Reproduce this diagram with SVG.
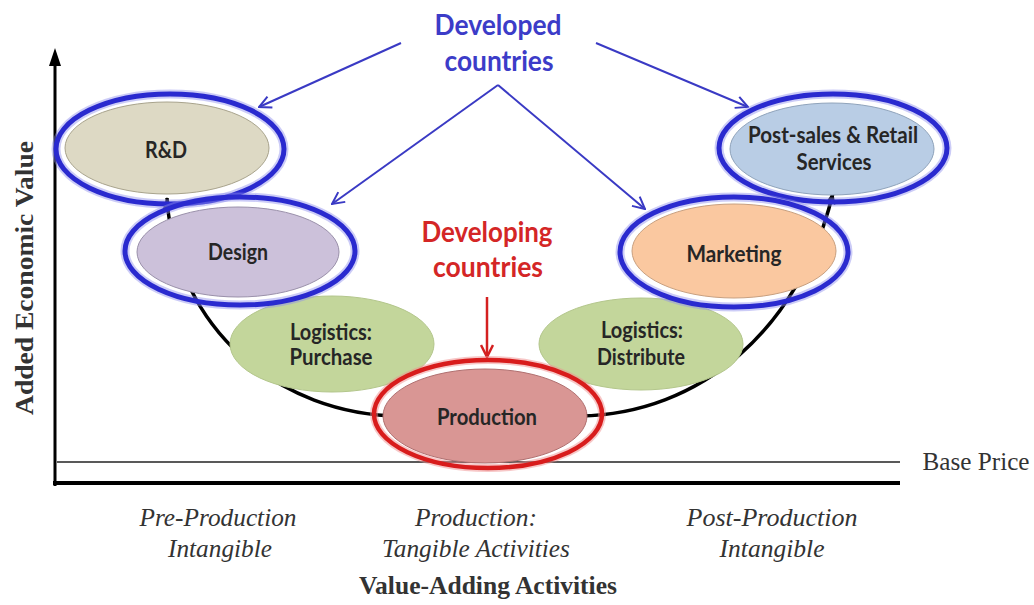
<svg xmlns="http://www.w3.org/2000/svg" width="1034" height="605" viewBox="0 0 1034 605">
<style>
.lbl{font-family:Lato,"Open Sans","Liberation Sans",sans-serif;font-weight:bold;font-size:22px;fill:#262626;text-anchor:middle}
.big{font-family:Lato,"Open Sans","Liberation Sans",sans-serif;font-weight:bold;font-size:28px;text-anchor:middle}
.ser{font-family:"Liberation Serif","Times New Roman",serif;fill:#333;text-anchor:middle}
.it{font-style:italic;font-size:26px}
.ring{fill:none;stroke:#2a2acf;stroke-width:5}
.halo{fill:none;stroke:#8f8fee;stroke-width:9;opacity:.45}
.rring{fill:none;stroke:#d81c1c;stroke-width:4.5}
.rhalo{fill:none;stroke:#f09090;stroke-width:8;opacity:.5}
.inner{stroke-width:1}
.barrow{fill:none;stroke:#3a3ac4;stroke-width:2;marker-end:url(#bh)}
</style>
<defs>
<marker id="bh" markerUnits="userSpaceOnUse" viewBox="0 0 14 14" refX="13" refY="7" markerWidth="14" markerHeight="14" orient="auto">
<path d="M1,1 L13,7 L1,13" fill="none" stroke="#3a3ac4" stroke-width="2"/>
</marker>
<marker id="rh" markerUnits="userSpaceOnUse" viewBox="0 0 14 14" refX="13" refY="7" markerWidth="14" markerHeight="14" orient="auto">
<path d="M1,1 L13,7 L1,13" fill="none" stroke="#d42020" stroke-width="2.5"/>
</marker>
<marker id="kh" markerUnits="userSpaceOnUse" viewBox="0 0 12 12" refX="11" refY="6" markerWidth="12" markerHeight="12" orient="auto-start-reverse">
<path d="M0,1 L12,6 L0,11 Z" fill="#000"/>
</marker>
</defs>
<rect width="1034" height="605" fill="#fff"/>

<g id="axes">
<line x1="55" y1="62" x2="55" y2="486" stroke="#000" stroke-width="3"/>
<polygon points="55,48 49,66 61,66" fill="#000"/>
<line x1="53" y1="483" x2="900" y2="483" stroke="#000" stroke-width="4"/>
<line x1="57" y1="462" x2="900" y2="462" stroke="#222" stroke-width="1.5"/>
<text class="ser" font-size="25" x="976" y="470" text-anchor="middle" textLength="107" lengthAdjust="spacingAndGlyphs">Base Price</text>
<text class="ser" font-size="26" font-weight="bold" transform="translate(33,278) rotate(-90)" x="0" y="0" textLength="274" lengthAdjust="spacingAndGlyphs">Added Economic Value</text>
<text class="ser it" x="218" y="526" textLength="157" lengthAdjust="spacingAndGlyphs">Pre-Production</text>
<text class="ser it" x="220" y="557" textLength="104" lengthAdjust="spacingAndGlyphs">Intangible</text>
<text class="ser it" x="476" y="526" textLength="122" lengthAdjust="spacingAndGlyphs">Production:</text>
<text class="ser it" x="476" y="557" textLength="188" lengthAdjust="spacingAndGlyphs">Tangible Activities</text>
<text class="ser it" x="772" y="526" textLength="171" lengthAdjust="spacingAndGlyphs">Post-Production</text>
<text class="ser it" x="772" y="557" textLength="105" lengthAdjust="spacingAndGlyphs">Intangible</text>
<text class="ser" font-size="26" font-weight="bold" x="488" y="594" textLength="258" lengthAdjust="spacingAndGlyphs">Value-Adding Activities</text>
</g>

<g id="connectors">
<path d="M167,198 C175,330 280,415 400,416 L580,416 C700,414 800,330 833,193" fill="none" stroke="#000" stroke-width="3.5" marker-start="url(#kh)" marker-end="url(#kh)"/>
<line class="barrow" x1="401" y1="43" x2="259" y2="107"/>
<line class="barrow" x1="596" y1="43" x2="748" y2="107"/>
<line class="barrow" x1="498" y1="85" x2="332" y2="204"/>
<line class="barrow" x1="498" y1="85" x2="645" y2="209"/>
<line x1="487" y1="297" x2="487" y2="357" stroke="#d42020" stroke-width="2.5" marker-end="url(#rh)"/>
</g>

<g id="developed-label">
<text class="big" fill="#3c3cc8" x="498" y="35" textLength="127" lengthAdjust="spacingAndGlyphs">Developed</text>
<text class="big" fill="#3c3cc8" x="499" y="71" textLength="109" lengthAdjust="spacingAndGlyphs">countries</text>
</g>
<g id="developing-label">
<text class="big" fill="#d42626" x="487" y="242" textLength="131" lengthAdjust="spacingAndGlyphs">Developing</text>
<text class="big" fill="#d42626" x="488" y="277" textLength="110" lengthAdjust="spacingAndGlyphs">countries</text>
</g>

<g id="logistics-purchase">
<ellipse class="inner" cx="332" cy="344" rx="102" ry="48" fill="#c3d69b" stroke="#b3c68b"/>
<text class="lbl" x="331" y="340" textLength="82" lengthAdjust="spacingAndGlyphs">Logistics:</text>
<text class="lbl" x="331" y="365" textLength="83" lengthAdjust="spacingAndGlyphs">Purchase</text>
</g>
<g id="logistics-distribute">
<ellipse class="inner" cx="641" cy="344" rx="102" ry="46" fill="#c3d69b" stroke="#b3c68b"/>
<text class="lbl" x="642" y="338" textLength="82" lengthAdjust="spacingAndGlyphs">Logistics:</text>
<text class="lbl" x="641" y="365" textLength="88" lengthAdjust="spacingAndGlyphs">Distribute</text>
</g>

<g id="rd">
<ellipse class="halo" cx="170" cy="149" rx="114" ry="55"/>
<ellipse class="ring" cx="170" cy="149" rx="114" ry="55"/>
<ellipse class="inner" cx="167" cy="148" rx="102" ry="46" fill="#ddd9c4" stroke="#a8a38c"/>
<text class="lbl" x="166" y="158" textLength="42" lengthAdjust="spacingAndGlyphs">R&amp;D</text>
</g>
<g id="design">
<ellipse class="halo" cx="240" cy="251" rx="115" ry="54"/>
<ellipse class="ring" cx="240" cy="251" rx="115" ry="54"/>
<ellipse class="inner" cx="238" cy="252" rx="101" ry="45" fill="#ccc1da" stroke="#9a90aa"/>
<text class="lbl" x="238" y="260" textLength="60" lengthAdjust="spacingAndGlyphs">Design</text>
</g>
<g id="post-sales">
<ellipse class="halo" cx="833" cy="148" rx="114" ry="54"/>
<ellipse class="ring" cx="833" cy="148" rx="114" ry="54"/>
<ellipse class="inner" cx="832" cy="149" rx="102" ry="46" fill="#b9cde5" stroke="#8fa3bb"/>
<text class="lbl" x="833" y="143" textLength="170" lengthAdjust="spacingAndGlyphs">Post-sales &amp; Retail</text>
<text class="lbl" x="834" y="170" textLength="75" lengthAdjust="spacingAndGlyphs">Services</text>
</g>
<g id="marketing">
<ellipse class="halo" cx="734" cy="252" rx="114" ry="55"/>
<ellipse class="ring" cx="734" cy="252" rx="114" ry="55"/>
<ellipse class="inner" cx="734" cy="251" rx="102" ry="47" fill="#fac8a0" stroke="#c8a080"/>
<text class="lbl" x="734" y="262" textLength="95" lengthAdjust="spacingAndGlyphs">Marketing</text>
</g>
<g id="production">
<ellipse class="rhalo" cx="488" cy="414" rx="114" ry="54"/>
<ellipse class="rring" cx="488" cy="414" rx="114" ry="54"/>
<ellipse class="inner" cx="485" cy="416" rx="102" ry="47" fill="#d99694" stroke="#b07070"/>
<text class="lbl" x="487" y="425" textLength="100" lengthAdjust="spacingAndGlyphs">Production</text>
</g>
</svg>
